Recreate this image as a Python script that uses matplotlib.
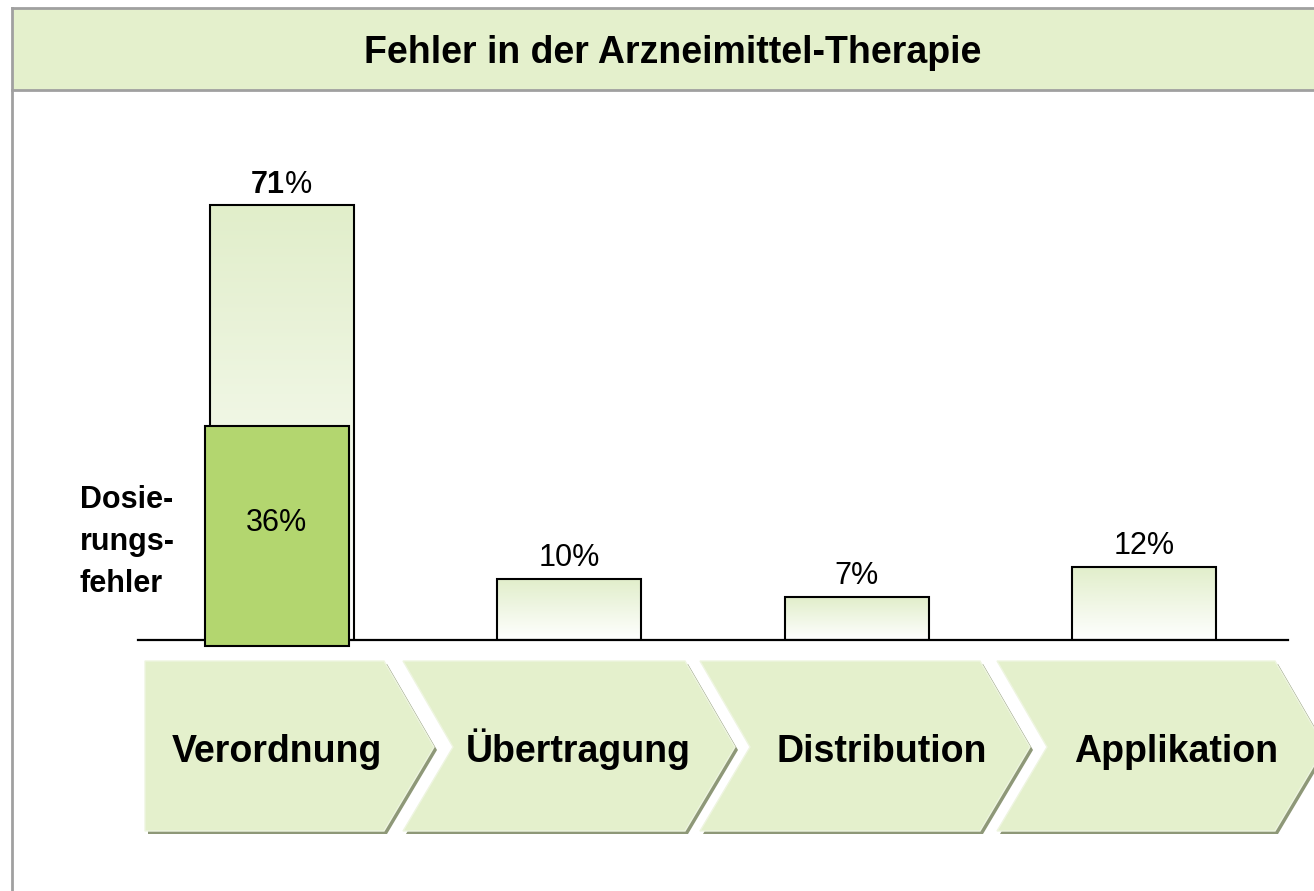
import numpy as np
import matplotlib.pyplot as plt
from matplotlib.patches import Polygon, Rectangle
from matplotlib.colors import LinearSegmentedColormap

# data
stages = ["Verordnung", "Übertragung", "Distribution", "Applikation"]
error_share = [71, 10, 7, 12]
dosing_share = 36
dosing_label = "Dosie-\nrungs-\nfehler"
title = "Fehler in der Arzneimittel-Therapie"

light_green = "#E4F0CC"
dark_green = "#B3D66F"
shadow = "#8E9878"
frame_grey = "#A0A0A0"

plt.rcParams['font.family'] = ['Liberation Sans', 'DejaVu Sans']

W, H = 1314, 891
fig = plt.figure(figsize=(W / 100, H / 100), dpi=100)

# background layer in pixel coordinates: frame, title band, chevrons
bg = fig.add_axes([0, 0, 1, 1], zorder=0)
bg.set_xlim(0, W)
bg.set_ylim(H, 0)
bg.axis("off")

bg.add_patch(Rectangle((12, 8), W, 82, facecolor=light_green, edgecolor="none"))
bg.plot([12, W], [8, 8], color=frame_grey, lw=2)
bg.plot([12, W], [90, 90], color=frame_grey, lw=2)
bg.plot([12, 12], [8, H], color=frame_grey, lw=2)
bg.text(673, 63, title, ha="center", va="baseline", fontsize=27, fontweight="bold")

# chevrons
top, bot, mid, depth = 661, 831, 747, 50
lefts = [145, 403, 700, 997]
rights = [384, 685, 980, 1275]
text_x = [277, 578, 882, 1176]
for i, name in enumerate(stages):
    L, R = lefts[i], rights[i]
    if i == 0:
        pts = [(L, top), (R, top), (R + depth, mid), (R, bot), (L, bot)]
    else:
        pts = [(L, top), (R, top), (R + depth, mid), (R, bot), (L, bot), (L + depth, mid)]
    sh = [(x + 3, y + 3) for x, y in pts]
    bg.add_patch(Polygon(sh, closed=True, facecolor=shadow, edgecolor="none"))
    bg.add_patch(Polygon(pts, closed=True, facecolor=light_green, edgecolor="#EEF5E0", lw=1))
    bg.text(text_x[i], 762, name, ha="center", va="baseline", fontsize=27, fontweight="bold")

# side label for the dosing error part
for k, line in enumerate(dosing_label.split("\n")):
    bg.text(80, 508 + 42 * k, line, ha="left", va="baseline", fontsize=22, fontweight="bold")

# bar chart
px_per_unit = 6.12
ax_bottom = (H - 640) / H
ax_height = 88 * px_per_unit / H
ax = fig.add_axes([138 / W, ax_bottom, (1288 - 138) / W, ax_height], zorder=1)
ax.set_facecolor("none")
ax.set_xlim(-0.5, 3.5)
ax.set_ylim(0, 88)
ax.axis("off")

x = np.arange(len(stages))
bars = ax.bar(x, error_share, width=0.5, facecolor="none", edgecolor="black", lw=1.5, zorder=3)
cmap = LinearSegmentedColormap.from_list("g", ["white", "#E1EECA"])
grad = np.linspace(0, 1, 256).reshape(-1, 1)
for b in bars:
    x0, w, h = b.get_x(), b.get_width(), b.get_height()
    im = ax.imshow(grad, cmap=cmap, origin="lower", aspect="auto",
                   extent=[x0, x0 + w, 0, h], zorder=2)
    im.set_clip_path(b)
ax.set_xlim(-0.5, 3.5)
ax.set_ylim(0, 88)

for xi, v in zip(x, error_share):
    if xi == 0:
        # the big bar's number is set in bold, the percent sign is not
        ax.annotate(f"{v}", (xi, v + 2.1), xytext=(2.5, 0), textcoords="offset points",
                    ha="right", va="baseline", fontsize=22, fontweight="bold")
        ax.annotate("%", (xi, v + 2.1), xytext=(2.5, 0), textcoords="offset points",
                    ha="left", va="baseline", fontsize=22)
    else:
        ax.text(xi, v + 2.1, f"{v}%", ha="center", va="baseline", fontsize=22)

ax.axhline(0, color="black", lw=1.6, zorder=4, clip_on=False)

# dosing error bar, slightly offset in front
ax.bar(x[0] - 0.017, dosing_share, bottom=-1, width=0.5, color=dark_green,
       edgecolor="black", lw=1.5, zorder=5, clip_on=False)
ax.text(x[0] - 0.017, 17.8, f"{dosing_share}%", ha="center", va="baseline", fontsize=22, zorder=6)

fig.savefig("out.png", dpi=100)
